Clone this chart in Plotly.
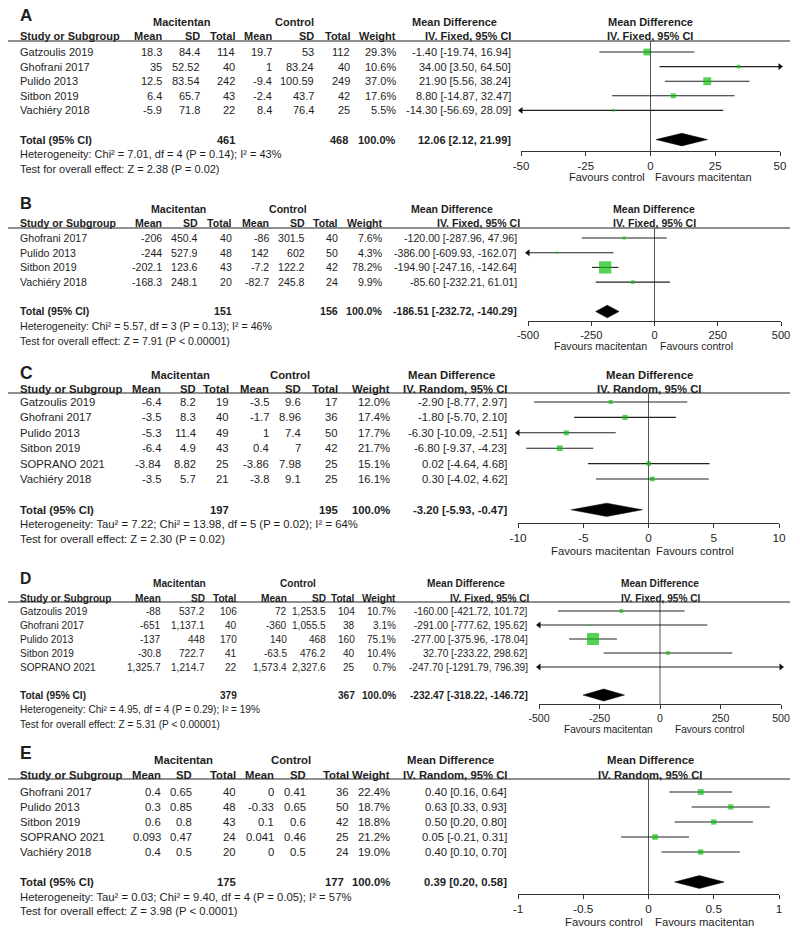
import plotly.graph_objects as go

FONT = "Liberation Sans, Arial, Helvetica, sans-serif"
TXT = "#1e1e1e"
GREEN = "#0FBF0F"

# ---------------- DATA ----------------
# Panel A
A_studies = ["Gatzoulis 2019", "Ghofrani 2017", "Pulido 2013", "Sitbon 2019", "Vachiéry 2018"]
A_mac_mean = [18.3, 35, 12.5, 6.4, -5.9]
A_mac_sd = [84.4, 52.52, 83.54, 65.7, 71.8]
A_mac_n = [114, 40, 242, 43, 22]
A_ctl_mean = [19.7, 1, -9.4, -2.4, 8.4]
A_ctl_sd = [53, 83.24, 100.59, 43.7, 76.4]
A_ctl_n = [112, 40, 249, 42, 25]
A_weight = [29.3, 10.6, 37.0, 17.6, 5.5]
A_md = [-1.40, 34.00, 21.90, 8.80, -14.30]
A_lo = [-19.74, 3.50, 5.56, -14.87, -56.69]
A_hi = [16.94, 64.50, 38.24, 32.47, 28.09]
A_total_n = [461, 468]
A_total_ci = [12.06, 2.12, 21.99]
A_het = "Heterogeneity: Chi² = 7.01, df = 4 (P = 0.14); I² = 43%"
A_test = "Test for overall effect: Z = 2.38 (P = 0.02)"
A_method = "IV. Fixed, 95% CI"
A_fav = ["Favours control", "Favours macitentan"]
A_ticks = [-50, -25, 0, 25, 50]

# Panel B
B_studies = ["Ghofrani 2017", "Pulido 2013", "Sitbon 2019", "Vachiéry 2018"]
B_mac_mean = [-206, -244, -202.1, -168.3]
B_mac_sd = [450.4, 527.9, 123.6, 248.1]
B_mac_n = [40, 48, 43, 20]
B_ctl_mean = [-86, 142, -7.2, -82.7]
B_ctl_sd = [301.5, 602, 122.2, 245.8]
B_ctl_n = [40, 50, 42, 24]
B_weight = [7.6, 4.3, 78.2, 9.9]
B_md = [-120.00, -386.00, -194.90, -85.60]
B_lo = [-287.96, -609.93, -247.16, -232.21]
B_hi = [47.96, -162.07, -142.64, 61.01]
B_total_n = [151, 156]
B_total_ci = [-186.51, -232.72, -140.29]
B_het = "Heterogeneity: Chi² = 5.57, df = 3 (P = 0.13); I² = 46%"
B_test = "Test for overall effect: Z = 7.91 (P < 0.00001)"
B_method = "IV. Fixed, 95% CI"
B_fav = ["Favours macitentan", "Favours control"]
B_ticks = [-500, -250, 0, 250, 500]

# Panel C
C_studies = ["Gatzoulis 2019", "Ghofrani 2017", "Pulido 2013", "Sitbon 2019", "SOPRANO 2021", "Vachiéry 2018"]
C_mac_mean = [-6.4, -3.5, -5.3, -6.4, -3.84, -3.5]
C_mac_sd = [8.2, 8.3, 11.4, 4.9, 8.82, 5.7]
C_mac_n = [19, 40, 49, 43, 25, 21]
C_ctl_mean = [-3.5, -1.7, 1, 0.4, -3.86, -3.8]
C_ctl_sd = [9.6, 8.96, 7.4, 7, 7.98, 9.1]
C_ctl_n = [17, 36, 50, 42, 25, 25]
C_weight = [12.0, 17.4, 17.7, 21.7, 15.1, 16.1]
C_md = [-2.90, -1.80, -6.30, -6.80, 0.02, 0.30]
C_lo = [-8.77, -5.70, -10.09, -9.37, -4.64, -4.02]
C_hi = [2.97, 2.10, -2.51, -4.23, 4.68, 4.62]
C_total_n = [197, 195]
C_total_ci = [-3.20, -5.93, -0.47]
C_het = "Heterogeneity: Tau² = 7.22; Chi² = 13.98, df = 5 (P = 0.02); I² = 64%"
C_test = "Test for overall effect: Z = 2.30 (P = 0.02)"
C_method = "IV. Random, 95% CI"
C_fav = ["Favours macitentan", "Favours control"]
C_ticks = [-10, -5, 0, 5, 10]

# Panel D
D_studies = ["Gatzoulis 2019", "Ghofrani 2017", "Pulido 2013", "Sitbon 2019", "SOPRANO 2021"]
D_mac_mean = [-88, -651, -137, -30.8, 1325.7]
D_mac_sd = [537.2, 1137.1, 448, 722.7, 1214.7]
D_mac_n = [106, 40, 170, 41, 22]
D_ctl_mean = [72, -360, 140, -63.5, 1573.4]
D_ctl_sd = [1253.5, 1055.5, 468, 476.2, 2327.6]
D_ctl_n = [104, 38, 160, 40, 25]
D_weight = [10.7, 3.1, 75.1, 10.4, 0.7]
D_md = [-160.00, -291.00, -277.00, 32.70, -247.70]
D_lo = [-421.72, -777.62, -375.96, -233.22, -1291.79]
D_hi = [101.72, 195.62, -178.04, 298.62, 796.39]
D_total_n = [379, 367]
D_total_ci = [-232.47, -318.22, -146.72]
D_het = "Heterogeneity: Chi² = 4.95, df = 4 (P = 0.29); I² = 19%"
D_test = "Test for overall effect: Z = 5.31 (P < 0.00001)"
D_method = "IV. Fixed, 95% CI"
D_fav = ["Favours macitentan", "Favours control"]
D_ticks = [-500, -250, 0, 250, 500]

# Panel E
E_studies = ["Ghofrani 2017", "Pulido 2013", "Sitbon 2019", "SOPRANO 2021", "Vachiéry 2018"]
E_mac_mean = [0.4, 0.3, 0.6, 0.093, 0.4]
E_mac_sd = [0.65, 0.85, 0.8, 0.47, 0.5]
E_mac_n = [40, 48, 43, 24, 20]
E_ctl_mean = [0, -0.33, 0.1, 0.041, 0]
E_ctl_sd = [0.41, 0.65, 0.6, 0.46, 0.5]
E_ctl_n = [36, 50, 42, 25, 24]
E_weight = [22.4, 18.7, 18.8, 21.2, 19.0]
E_md = [0.40, 0.63, 0.50, 0.05, 0.40]
E_lo = [0.16, 0.33, 0.20, -0.21, 0.10]
E_hi = [0.64, 0.93, 0.80, 0.31, 0.70]
E_total_n = [175, 177]
E_total_ci = [0.39, 0.20, 0.58]
E_het = "Heterogeneity: Tau² = 0.03; Chi² = 9.40, df = 4 (P = 0.05); I² = 57%"
E_test = "Test for overall effect: Z = 3.98 (P < 0.0001)"
E_method = "IV. Random, 95% CI"
E_fav = ["Favours control", "Favours macitentan"]
E_ticks = [-1, -0.5, 0, 0.5, 1]

panels = [
    dict(letter="A", studies=A_studies, mm=A_mac_mean, ms=A_mac_sd, mn=A_mac_n, cm=A_ctl_mean, cs=A_ctl_sd,
         cn=A_ctl_n, w=A_weight, md=A_md, lo=A_lo, hi=A_hi, tn=A_total_n, tci=A_total_ci, het=A_het,
         test=A_test, method=A_method, fav=A_fav, ticks=A_ticks),
    dict(letter="B", studies=B_studies, mm=B_mac_mean, ms=B_mac_sd, mn=B_mac_n, cm=B_ctl_mean, cs=B_ctl_sd,
         cn=B_ctl_n, w=B_weight, md=B_md, lo=B_lo, hi=B_hi, tn=B_total_n, tci=B_total_ci, het=B_het,
         test=B_test, method=B_method, fav=B_fav, ticks=B_ticks),
    dict(letter="C", studies=C_studies, mm=C_mac_mean, ms=C_mac_sd, mn=C_mac_n, cm=C_ctl_mean, cs=C_ctl_sd,
         cn=C_ctl_n, w=C_weight, md=C_md, lo=C_lo, hi=C_hi, tn=C_total_n, tci=C_total_ci, het=C_het,
         test=C_test, method=C_method, fav=C_fav, ticks=C_ticks),
    dict(letter="D", studies=D_studies, mm=D_mac_mean, ms=D_mac_sd, mn=D_mac_n, cm=D_ctl_mean, cs=D_ctl_sd,
         cn=D_ctl_n, w=D_weight, md=D_md, lo=D_lo, hi=D_hi, tn=D_total_n, tci=D_total_ci, het=D_het,
         test=D_test, method=D_method, fav=D_fav, ticks=D_ticks),
    dict(letter="E", studies=E_studies, mm=E_mac_mean, ms=E_mac_sd, mn=E_mac_n, cm=E_ctl_mean, cs=E_ctl_sd,
         cn=E_ctl_n, w=E_weight, md=E_md, lo=E_lo, hi=E_hi, tn=E_total_n, tci=E_total_ci, het=E_het,
         test=E_test, method=E_method, fav=E_fav, ticks=E_ticks),
]

# ---------------- LAYOUT GEOMETRY (pixels) ----------------
geo = [
    dict(fs=11.0, label_y=15, group_y=22, head_y=36, line_y=41, row0=52, step=14.6, axis_y=151, dom=(521, 780),
         cols=[163, 201, 236, 273, 315, 351, 397, 512], tot_ctl=349, grp=(182, 294, 454), iv_right=512, fh=650,
         favx=(607, 703), fav_y=177),
    dict(fs=10.6, label_y=203, group_y=209, head_y=223, line_y=228, row0=238, step=14.7, axis_y=321, dom=(528, 781),
         cols=[163, 199, 233, 270, 306, 339, 384, 518], tot_ctl=339, grp=(178, 288, 452), iv_right=521, fh=654,
         favx=(600, 696), fav_y=346),
    dict(fs=11.3, label_y=373, group_y=375, head_y=389, line_y=393, row0=402, step=15.4, axis_y=523, dom=(518, 779),
         cols=[162, 197, 230, 270, 302, 339, 391, 508], tot_ctl=339, grp=(180, 290, 451), iv_right=508, fh=649,
         favx=(600, 695), fav_y=551),
    dict(fs=10.1, label_y=578, group_y=583, head_y=598, line_y=602, row0=611, step=14.0, axis_y=704, dom=(539, 781),
         cols=[162, 206, 238, 288, 327, 356, 397, 529], tot_ctl=356, grp=(179, 298, 466), iv_right=530, fh=660,
         favx=(608, 710), fav_y=729),
    dict(fs=11.3, label_y=753, group_y=760, head_y=775, line_y=779, row0=792, step=15.0, axis_y=894, dom=(518, 779),
         cols=[162, 193, 237, 275, 307, 350, 391, 508], tot_ctl=345, grp=(183, 291, 450), iv_right=508, fh=650,
         favx=(604, 704), fav_y=922),
]

W, H = 800, 934


def px(x):
    return x / W


def py(y):
    return 1 - y / H


def fnum(v):
    return f"{v:,}"


def fci(m, l, h):
    return f"{m:.2f} [{l:.2f}, {h:.2f}]"


fig = go.Figure()
annotations = []
shapes = []
layout_axes = {}


def add_text(x, y, text, size, anchor="right", bold=False):
    annotations.append(dict(
        x=px(x), y=py(y), xref="paper", yref="paper", text=f"<b>{text}</b>" if bold else text,
        showarrow=False, xanchor=anchor, yanchor="middle",
        font=dict(family=FONT, size=size, color=TXT), borderpad=0))


for k, (d, g) in enumerate(zip(panels, geo), start=1):
    n = len(d["studies"])
    fs = g["fs"]
    xname = "x" if k == 1 else f"x{k}"
    yname = "y" if k == 1 else f"y{k}"
    xkey = "xaxis" if k == 1 else f"xaxis{k}"
    ykey = "yaxis" if k == 1 else f"yaxis{k}"
    ov = k + 5
    ovkey = f"xaxis{ov}"

    ticks = d["ticks"]
    rmin, rmax = ticks[0], ticks[-1]
    v_top = (g["line_y"] - g["row0"]) / g["step"]
    v_bot = (g["axis_y"] - g["row0"]) / g["step"]
    tot_idx = n + 1
    ticktext = [f"{t:g}" for t in ticks]

    layout_axes[xkey] = dict(domain=[px(g["dom"][0]), px(g["dom"][1])], range=[rmin, rmax], anchor=yname,
                             tickvals=ticks, ticktext=ticktext, showline=True, linecolor="#333", linewidth=1,
                             ticks="outside", ticklen=4, tickwidth=1, tickcolor="#333", showgrid=False,
                             zeroline=False, tickfont=dict(family=FONT, size=fs + 0.5, color=TXT),
                             fixedrange=True, automargin=False)
    layout_axes[ovkey] = dict(overlaying=xname, range=[rmin, rmax], anchor=yname, tickvals=ticks,
                              showticklabels=False, ticks="inside", ticklen=4, tickwidth=1, tickcolor="#333",
                              showline=False, showgrid=False, zeroline=False, fixedrange=True, automargin=False)
    layout_axes[ykey] = dict(domain=[py(g["axis_y"]), py(g["line_y"])], range=[v_bot, v_top], visible=False,
                             fixedrange=True, anchor=xname, automargin=False)

    # zero line
    fig.add_trace(go.Scatter(x=[0, 0], y=[v_top, v_bot], mode="lines", line=dict(color="#555", width=1),
                             xaxis=xname, yaxis=yname, hoverinfo="skip", showlegend=False, cliponaxis=False))
    # CI lines
    xs, ys = [], []
    la_x, la_y, ra_x, ra_y = [], [], [], []
    for i in range(n):
        l = max(d["lo"][i], rmin)
        h = min(d["hi"][i], rmax)
        xs += [l, h, None]
        ys += [i, i, None]
        if d["lo"][i] < rmin:
            la_x.append(rmin)
            la_y.append(i)
        if d["hi"][i] > rmax:
            ra_x.append(rmax)
            ra_y.append(i)
    fig.add_trace(go.Scatter(x=xs, y=ys, mode="lines", line=dict(color="#222", width=1.1),
                             xaxis=xname, yaxis=yname, hoverinfo="skip", showlegend=False, cliponaxis=False))
    if la_x:
        fig.add_trace(go.Scatter(x=la_x, y=la_y, mode="markers",
                                 marker=dict(symbol="triangle-left", size=6, color="#111", line=dict(width=0)),
                                 xaxis=xname, yaxis=yname, hoverinfo="skip", showlegend=False, cliponaxis=False))
    if ra_x:
        fig.add_trace(go.Scatter(x=ra_x, y=ra_y, mode="markers",
                                 marker=dict(symbol="triangle-right", size=6, color="#111", line=dict(width=0)),
                                 xaxis=xname, yaxis=yname, hoverinfo="skip", showlegend=False, cliponaxis=False))
    # squares
    sizes = [max(1.6, 0.9 * w ** 0.6) for w in d["w"]]
    fig.add_trace(go.Scatter(x=d["md"], y=list(range(n)), mode="markers",
                             marker=dict(symbol="square", size=sizes, color=GREEN, line=dict(width=0)),
                             xaxis=xname, yaxis=yname, hoverinfo="skip", showlegend=False, cliponaxis=False))
    # diamond
    est, tlo, thi = d["tci"]
    hh = 0.43
    fig.add_trace(go.Scatter(x=[tlo, est, thi, est, tlo], y=[tot_idx, tot_idx - hh, tot_idx, tot_idx + hh, tot_idx],
                             mode="lines", fill="toself", fillcolor="#000", line=dict(color="#000", width=0.5),
                             xaxis=xname, yaxis=yname, hoverinfo="skip", showlegend=False, cliponaxis=False))

    # underline
    shapes.append(dict(type="line", xref="paper", yref="paper", x0=px(8), x1=px(790), y0=py(g["line_y"]),
                       y1=py(g["line_y"]), line=dict(color="#222", width=1.2)))

    # table text
    add_text(19, g["label_y"], d["letter"], fs * 1.55, anchor="left", bold=True)
    add_text(g["grp"][0], g["group_y"], "Macitentan", fs, anchor="center", bold=True)
    add_text(g["grp"][1], g["group_y"], "Control", fs, anchor="center", bold=True)
    add_text(g["grp"][2], g["group_y"], "Mean Difference", fs, anchor="center", bold=True)
    add_text(19, g["head_y"], "Study or Subgroup", fs, anchor="left", bold=True)
    heads = ["Mean", "SD", "Total", "Mean", "SD", "Total", "Weight"]
    for c, hd in zip(g["cols"][:7], heads):
        add_text(c, g["head_y"], hd, fs, bold=True)
    add_text(g["iv_right"], g["head_y"], d["method"], fs, bold=True)
    # forest header
    add_text(g["fh"], g["group_y"], "Mean Difference", fs, anchor="center", bold=True)
    add_text(g["fh"], g["head_y"], d["method"], fs, anchor="center", bold=True)

    for i in range(n):
        y = g["row0"] + i * g["step"]
        add_text(19, y, d["studies"][i], fs, anchor="left")
        vals = [fnum(d["mm"][i]), fnum(d["ms"][i]), fnum(d["mn"][i]), fnum(d["cm"][i]), fnum(d["cs"][i]),
                fnum(d["cn"][i]), f"{d['w'][i]:.1f}%", fci(d["md"][i], d["lo"][i], d["hi"][i])]
        for c, v in zip(g["cols"], vals):
            add_text(c, y, v, fs)

    ty = g["row0"] + tot_idx * g["step"]
    add_text(19, ty, "Total (95% CI)", fs, anchor="left", bold=True)
    add_text(g["cols"][2], ty, str(d["tn"][0]), fs, bold=True)
    add_text(g["tot_ctl"], ty, str(d["tn"][1]), fs, bold=True)
    add_text(g["cols"][6], ty, "100.0%", fs, bold=True)
    add_text(g["cols"][7], ty, fci(est, tlo, thi), fs, bold=True)
    add_text(19, ty + 14.5, d["het"], fs, anchor="left")
    add_text(19, ty + 29, d["test"], fs, anchor="left")

    add_text(g["favx"][0], g["fav_y"], d["fav"][0], fs, anchor="center")
    add_text(g["favx"][1], g["fav_y"], d["fav"][1], fs, anchor="center")

fig.update_layout(
    width=W, height=H, margin=dict(l=0, r=0, t=0, b=0, pad=0, autoexpand=False),
    paper_bgcolor="white", plot_bgcolor="rgba(0,0,0,0)",
    showlegend=False, annotations=annotations, shapes=shapes, font=dict(family=FONT, size=11, color=TXT),
    **layout_axes)

fig.write_html("out.html", config={"displayModeBar": False},
               post_script="document.body.style.margin='0';document.body.style.padding='0';"
                           "document.documentElement.style.margin='0';")
